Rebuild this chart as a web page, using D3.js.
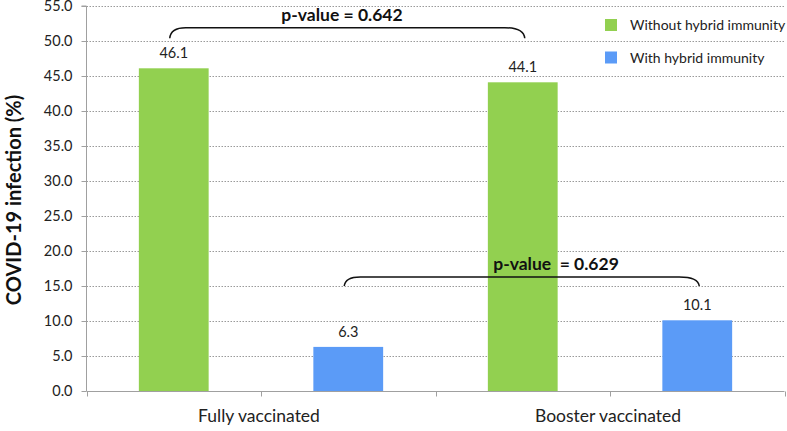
<!DOCTYPE html>
<html><head><meta charset="utf-8">
<script src="https://cdn.jsdelivr.net/npm/d3@7/dist/d3.min.js"></script>
<style>body{margin:0;background:#fff}svg{display:block}</style>
</head><body>
<script>
const categories = ["Fully vaccinated", "Booster vaccinated"];
const seriesNames = ["Without hybrid immunity", "With hybrid immunity"];
const withoutHybrid = [46.1, 44.1];
const withHybrid = [6.3, 10.1];
const yTicks = [0,5,10,15,20,25,30,35,40,45,50,55];
const pValues = ["p-value = 0.642", "p-value  = 0.629"];
const colors = ["#92d050", "#5b9bf7"];

const W = 787, H = 431;
const svg = d3.select("body").append("svg").attr("width", W).attr("height", H);
const font = "Lato, 'Open Sans', sans-serif";

const slots = [];
categories.forEach((c, i) => {
  slots.push({cat: c, s: 0, v: withoutHybrid[i], key: c + "|0"});
  slots.push({cat: c, s: 1, v: withHybrid[i], key: c + "|1"});
});

const x = d3.scaleBand().domain(slots.map(d => d.key)).range([86.5, 784.5]).padding(0);
const y = d3.scaleLinear().domain([0, 55]).range([391, 6]);
const bw = x.bandwidth() * 0.4;

// gridlines
svg.append("g").selectAll("line").data(yTicks.filter(t => t > 0)).join("line")
  .attr("x1", 86.5).attr("x2", 784.5)
  .attr("y1", d => Math.round(y(d)) + 0.5).attr("y2", d => Math.round(y(d)) + 0.5)
  .attr("stroke", "#9a9a9a").attr("stroke-width", 1).attr("stroke-dasharray", "1.5,1.5");

// y axis
const yAxis = d3.axisLeft(y).tickValues(yTicks).tickFormat(d3.format(".1f")).tickSize(5).tickPadding(9);
const ga = svg.append("g").attr("transform", "translate(86.5,0)").call(yAxis);
ga.select(".domain").attr("stroke", "#a0a0a0").attr("d", `M-5,${y(55)}H0V${y(0)}`);
ga.selectAll(".tick line").attr("stroke", "#a0a0a0");
ga.selectAll(".tick text").attr("font-family", font).attr("font-size", 14.5).attr("fill", "#222");
ga.selectAll(".tick").attr("transform", d => `translate(0,${Math.round(y(d)) + 0.5})`);

// bars
svg.append("g").selectAll("rect").data(slots).join("rect")
  .attr("x", d => x(d.key) + (x.bandwidth() - bw) / 2)
  .attr("width", bw)
  .attr("y", d => y(d.v))
  .attr("height", d => y(0) - y(d.v))
  .attr("fill", d => colors[d.s]);

// x axis
const xb = Math.round(y(0)) + 0.5;
svg.append("line").attr("x1", 86.5).attr("x2", 784.5).attr("y1", xb).attr("y2", xb).attr("stroke", "#a0a0a0");
const tickXs = [86.5].concat(slots.map(d => x(d.key) + x.bandwidth()));
svg.append("g").selectAll("line").data(tickXs).join("line")
  .attr("x1", d => Math.round(d) + 0.5).attr("x2", d => Math.round(d) + 0.5)
  .attr("y1", xb).attr("y2", xb + 5).attr("stroke", "#a0a0a0");
svg.append("g").selectAll("text").data(categories).join("text")
  .attr("x", (c, i) => x(c + "|0") + x.bandwidth() - 2)
  .attr("y", 422)
  .attr("text-anchor", "middle").attr("font-family", font).attr("font-size", 17.5).attr("fill", "#222")
  .text(d => d);

// value labels
svg.append("g").selectAll("text").data(slots).join("text")
  .attr("x", d => x(d.key) + x.bandwidth() / 2)
  .attr("y", d => y(d.v) - 10)
  .attr("text-anchor", "middle").attr("font-family", font).attr("font-size", 14.5).attr("fill", "#222")
  .text(d => d.v.toFixed(1));

// brackets
const brackets = [
  {a: slots[0].key, b: slots[2].key, low: 50.4, high: 51.9, text: pValues[0], tv: 53.7, tx: 342},
  {a: slots[1].key, b: slots[3].key, low: 15.0, high: 16.3, text: pValues[1], tv: 18.1, tx: 556}
];
brackets.forEach(br => {
  const x1 = x(br.a) + x.bandwidth() / 2 - 4, x2 = x(br.b) + x.bandwidth() / 2 + 2;
  const yl = y(br.low), yh = y(br.high);
  const p = d3.path();
  p.moveTo(x1, yl);
  p.quadraticCurveTo(x1 + 1, yh, x1 + 16, yh);
  p.lineTo(x2 - 20, yh);
  p.quadraticCurveTo(x2 - 1, yh, x2, yl);
  svg.append("path").attr("d", p.toString()).attr("fill", "none").attr("stroke", "#111").attr("stroke-width", 1.5);
  svg.append("text").attr("x", br.tx).attr("y", y(br.tv) + 6)
    .attr("text-anchor", "middle").attr("font-family", font).attr("font-weight", "bold")
    .attr("font-size", 17.5).attr("fill", "#111").attr("xml:space", "preserve").style("white-space", "pre")
    .text(br.text);
});

// legend
const lg = svg.append("g");
seriesNames.forEach((n, i) => {
  const cy = 25 + i * 32.5;
  lg.append("rect").attr("x", 605).attr("y", cy - 6).attr("width", 12).attr("height", 12).attr("fill", colors[i]);
  lg.append("text").attr("x", 630).attr("y", cy + 5).attr("font-family", font).attr("font-size", 14).attr("fill", "#222").text(n);
});

// y title
svg.append("text").attr("transform", "translate(21,200) rotate(-90)")
  .attr("text-anchor", "middle").attr("font-family", font).attr("font-weight", "bold").attr("font-size", 20).attr("fill", "#111")
  .text("COVID-19 infection (%)");
</script>
</body></html>
